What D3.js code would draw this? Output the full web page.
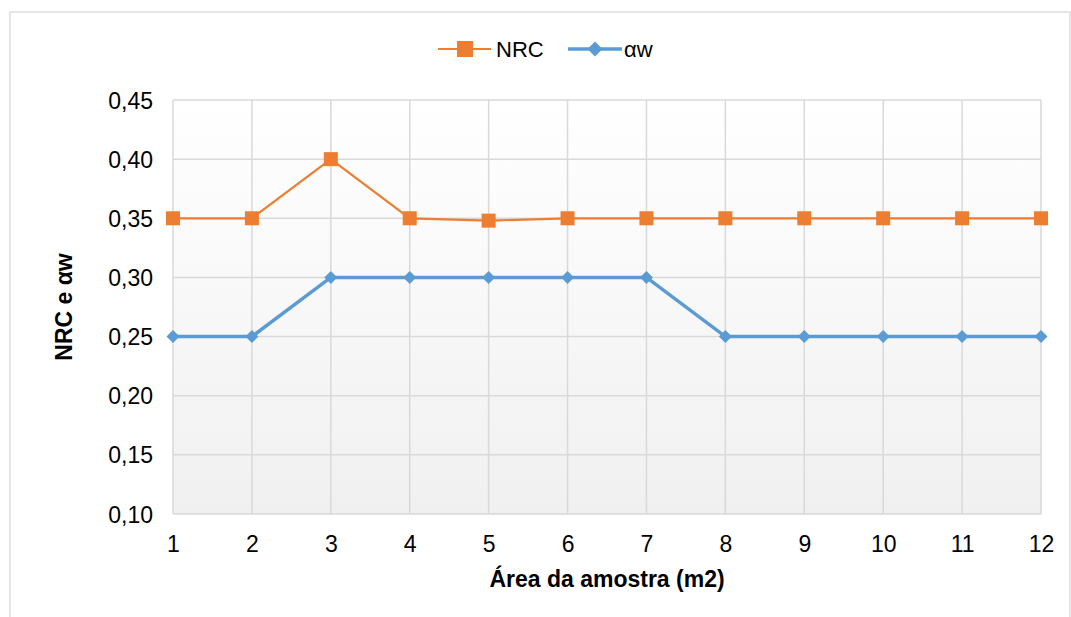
<!DOCTYPE html>
<html>
<meta charset="utf-8">
<head>
<style>
body { margin: 0; background: #fff; }
text { font-family: "Liberation Sans", Arial, sans-serif; fill: #000; }
.grid line { stroke: #d9d9d9; stroke-width: 1.5px; }
</style>
</head>
<body>
<script src="https://cdn.jsdelivr.net/npm/d3@7"></script>
<script>

// chart data
var areas = [1, 2, 3, 4, 5, 6, 7, 8, 9, 10, 11, 12];
var nrc = [0.35, 0.35, 0.40, 0.35, 0.348, 0.35, 0.35, 0.35, 0.35, 0.35, 0.35, 0.35];
var aw = [0.25, 0.25, 0.30, 0.30, 0.30, 0.30, 0.30, 0.25, 0.25, 0.25, 0.25, 0.25];
var yTicks = [0.10, 0.15, 0.20, 0.25, 0.30, 0.35, 0.40, 0.45];

var W = 1071, H = 617;

var svg = d3.select("body").append("svg")
    .attr("width", W)
    .attr("height", H);

// outer chart border
svg.append("rect")
    .attr("x", 10).attr("y", 12)
    .attr("width", W - 11).attr("height", H)
    .attr("fill", "#fff")
    .attr("stroke", "#d9d9d9")
    .attr("stroke-width", 1.3);

var x = d3.scaleLinear().domain([1, 12]).range([173, 1041]);
var y = d3.scaleLinear().domain([0.10, 0.45]).range([514, 100]);

// plot background gradient
var grad = svg.append("defs").append("linearGradient")
    .attr("id", "bg").attr("x1", 0).attr("y1", 0).attr("x2", 0).attr("y2", 1);
grad.append("stop").attr("offset", "0%").attr("stop-color", "#ffffff");
grad.append("stop").attr("offset", "100%").attr("stop-color", "#f0f0f0");

svg.append("rect")
    .attr("x", x(1)).attr("y", y(0.45))
    .attr("width", x(12) - x(1)).attr("height", y(0.10) - y(0.45))
    .attr("fill", "url(#bg)");

// gridlines
svg.append("g").attr("class", "grid")
  .selectAll("line").data(yTicks).enter().append("line")
    .attr("x1", x(1)).attr("x2", x(12))
    .attr("y1", d => y(d)).attr("y2", d => y(d));

svg.append("g").attr("class", "grid")
  .selectAll("line").data(areas).enter().append("line")
    .attr("x1", d => x(d)).attr("x2", d => x(d))
    .attr("y1", y(0.45)).attr("y2", y(0.10));

// axes (labels only)
var fmt = d => d3.format(".2f")(d).replace(".", ",");

svg.append("g")
    .attr("transform", "translate(" + (x(1) - 20) + ",0)")
    .call(d3.axisLeft(y).tickValues(yTicks).tickFormat(fmt).tickSize(0).tickPadding(0))
    .call(g => g.select(".domain").remove())
    .call(g => g.selectAll("text").attr("dy", "0.35em"));

svg.append("g")
    .attr("transform", "translate(0,552)")
    .call(d3.axisBottom(x).tickValues(areas).tickFormat(d3.format("d")).tickSize(0).tickPadding(0))
    .call(g => g.select(".domain").remove())
    .call(g => g.selectAll("text").attr("y", 0).attr("dy", 0));

svg.selectAll(".tick text")
    .style("font-size", "23px")
    .style("font-family", "'Liberation Sans', Arial, sans-serif");

// axis titles
svg.append("text")
    .attr("x", 607).attr("y", 587)
    .attr("text-anchor", "middle")
    .style("font-size", "23px").style("font-weight", "bold")
    .text("Área da amostra (m2)");

svg.append("text")
    .attr("transform", "translate(72,307) rotate(-90)")
    .attr("text-anchor", "middle")
    .style("font-size", "23px").style("font-weight", "bold")
    .text("NRC e αw");

// lines
var line = d3.line().x((d, i) => x(areas[i])).y(d => y(d));

svg.append("path").datum(nrc)
    .attr("d", line)
    .attr("fill", "none").attr("stroke", "#ed7d31").attr("stroke-width", 2.2);

svg.append("path").datum(aw)
    .attr("d", line)
    .attr("fill", "none").attr("stroke", "#5b9bd5").attr("stroke-width", 3.5);

// markers
var sq = 14;
svg.append("g").selectAll("rect").data(nrc).enter().append("rect")
    .attr("x", (d, i) => x(areas[i]) - sq / 2)
    .attr("y", d => y(d) - sq / 2)
    .attr("width", sq).attr("height", sq)
    .attr("fill", "#ed7d31");

function diamond(r) {
  return "M0," + (-r) + "L" + r + ",0L0," + r + "L" + (-r) + ",0Z";
}
svg.append("g").selectAll("path").data(aw).enter().append("path")
    .attr("transform", (d, i) => "translate(" + x(areas[i]) + "," + y(d) + ")")
    .attr("d", diamond(6.5))
    .attr("fill", "#5b9bd5");

// legend
var lg = svg.append("g");
lg.append("line").attr("x1", 438).attr("x2", 491).attr("y1", 49).attr("y2", 49)
    .attr("stroke", "#ed7d31").attr("stroke-width", 2.2);
lg.append("rect").attr("x", 465 - 8).attr("y", 49 - 8)
    .attr("width", 16).attr("height", 16).attr("fill", "#ed7d31");
lg.append("text").attr("x", 496).attr("y", 57).style("font-size", "22px").text("NRC");

lg.append("line").attr("x1", 568).attr("x2", 622).attr("y1", 49).attr("y2", 49)
    .attr("stroke", "#5b9bd5").attr("stroke-width", 3.5);
lg.append("path").attr("transform", "translate(595,49)").attr("d", diamond(7.5))
    .attr("fill", "#5b9bd5");
lg.append("text").attr("x", 624).attr("y", 57).style("font-size", "22px").text("αw");

</script>
</body>
</html>
